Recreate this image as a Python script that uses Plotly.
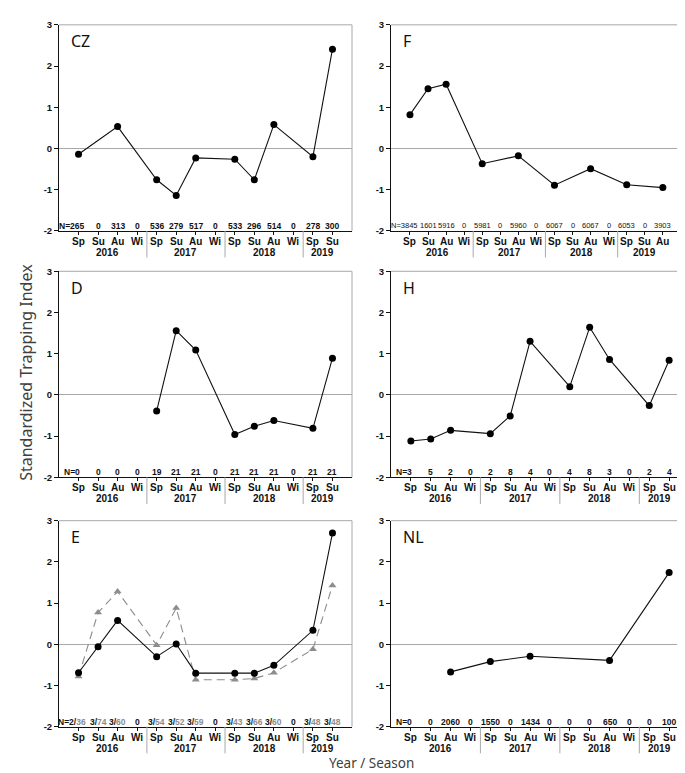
import plotly.graph_objects as go
from plotly.subplots import make_subplots

# ---------------- data ----------------
seasons_14 = ["Sp", "Su", "Au", "Wi", "Sp", "Su", "Au", "Wi", "Sp", "Su", "Au", "Wi", "Sp", "Su"]
seasons_15 = seasons_14 + ["Au"]
years = ["2016", "2017", "2018", "2019"]

cz_values = [-0.14, None, 0.53, None, -0.76, -1.14, -0.23, None, -0.26, -0.76, 0.58, None, -0.20, 2.41]
cz_n = ["265", "0", "313", "0", "536", "279", "517", "0", "533", "296", "514", "0", "278", "300"]

f_values = [0.82, 1.45, 1.56, None, -0.37, None, -0.18, None, -0.89, None, -0.49, None, -0.88, None, -0.95]
f_n = ["3845", "1601", "5916", "0", "5981", "0", "5960", "0", "6067", "0", "6067", "0", "6053", "0", "3903"]

d_values = [None, None, None, None, -0.39, 1.56, 1.09, None, -0.96, -0.76, -0.62, None, -0.81, 0.89]
d_n = ["0", "0", "0", "0", "19", "21", "21", "0", "21", "21", "21", "0", "21", "21"]

h_values = [-1.12, -1.07, -0.86, None, -0.94, -0.51, 1.30, None, 0.20, 1.64, 0.86, None, -0.26, 0.84]
h_n = ["3", "5", "2", "0", "2", "8", "4", "0", "4", "8", "3", "0", "2", "4"]

e_black = [-0.69, -0.06, 0.58, None, -0.30, 0.01, -0.70, None, -0.70, -0.70, -0.51, None, 0.34, 2.70]
e_gray = [-0.78, 0.77, 1.28, None, -0.02, 0.88, -0.86, None, -0.86, -0.83, -0.69, None, -0.12, 1.43]
e_n_black = ["2", "3", "3", "0", "3", "3", "3", "0", "3", "3", "3", "0", "3", "3"]
e_n_gray = ["36", "74", "60", "", "54", "52", "59", "", "43", "66", "60", "", "48", "48"]

nl_values = [None, None, -0.67, None, -0.42, None, -0.29, None, None, None, -0.39, None, None, 1.74]
nl_n = ["0", "0", "2060", "0", "1550", "0", "1434", "0", "0", "0", "650", "0", "0", "100"]

panel_names = ["CZ", "F", "D", "H", "E", "NL"]
y_ticks = [-2, -1, 0, 1, 2, 3]

# ---------------- layout geometry ----------------
W, H = 685, 773
rows_px = [(11, 220), (261, 470), (514, 723)]
cols_px = {
    1: (51, 344),  # CZ
    2: (383, 672),  # F
    3: (51, 344),  # D
    4: (383, 681),  # H
    5: (51, 344),  # E
    6: (383, 681),  # NL
}
x_ranges = {1: [0, 15], 2: [-0.05, 15.95], 3: [0, 15], 4: [0, 15], 5: [0, 15], 6: [0, 15]}

fig = make_subplots(rows=3, cols=2)

BLACK = "#111111"
GRAYLINE = "#a8a8a8"
GRAYSER = "#8c8c8c"
BOLD_FONT = "Liberation Sans, Arial, sans-serif"
TITLE_FONT = "Noto Sans, Open Sans, sans-serif"


def ax(k):
    return "" if k == 1 else str(k)


def add_series(row, col, vals, color=BLACK, symbol="circle", dash="solid", mcolor="black"):
    xs = list(range(1, len(vals) + 1))
    fig.add_trace(
        go.Scatter(
            x=xs, y=vals, mode="lines+markers", connectgaps=True,
            line=dict(color=color, width=1.1, dash=dash),
            marker=dict(symbol=symbol, size=7, color=mcolor),
            showlegend=False, hoverinfo="skip",
        ),
        row=row, col=col,
    )


panels = [
    (1, 1, 1, seasons_14),
    (2, 1, 2, seasons_15),
    (3, 2, 1, seasons_14),
    (4, 2, 2, seasons_14),
    (5, 3, 1, seasons_14),
    (6, 3, 2, seasons_14),
]

add_series(1, 1, cz_values)
add_series(1, 2, f_values)
add_series(2, 1, d_values)
add_series(2, 2, h_values)
add_series(3, 1, e_gray, color=GRAYSER, symbol="triangle-up", dash="8px,5px", mcolor=GRAYSER)
add_series(3, 1, e_black)
add_series(3, 2, nl_values)

annotations = []
shapes = []


def char_w(s, size):
    w = 0
    for ch in s:
        w += 0.28 * size if ch == "/" else 0.556 * size
    return w


for k, row, col, seas in panels:
    top, bot = rows_px[row - 1]
    x0p, x1p = cols_px[k]
    rng = x_ranges[k]
    xa = "xaxis" + ax(k)
    ya = "yaxis" + ax(k)
    fig.layout[xa].update(
        domain=[x0p / W, x1p / W], range=rng, showgrid=False, zeroline=False,
        showline=True, linecolor=BLACK, linewidth=1,
        tickvals=list(range(1, len(seas) + 1)), ticks="outside", ticklen=3,
        tickcolor=BLACK, showticklabels=False, fixedrange=True,
    )
    fig.layout[ya].update(
        domain=[1 - bot / H, 1 - top / H], range=[-2, 3], showgrid=False,
        zeroline=True, zerolinecolor=GRAYLINE, zerolinewidth=1,
        showline=True, linecolor=BLACK, linewidth=1,
        tickvals=y_ticks, ticktext=["<b>%d</b>" % v for v in y_ticks],
        ticks="outside", ticklen=4, tickcolor=BLACK,
        tickfont=dict(family=BOLD_FONT, size=9.5, color=BLACK), fixedrange=True,
    )
    xr = "x" + ax(k)
    yd = "y" + ax(k) + " domain"
    xd = "x" + ax(k) + " domain"
    ph = bot - top

    # top and right frame (gray)
    shapes.append(dict(type="line", xref=xd, yref=yd, x0=0, x1=1, y0=1, y1=1,
                       line=dict(color=GRAYLINE, width=1)))
    shapes.append(dict(type="line", xref=xd, yref=yd, x0=1, x1=1, y0=0, y1=1,
                       line=dict(color=GRAYLINE, width=1)))

    # year separators
    for sep in [4.5, 8.5, 12.5]:
        fx = (sep - rng[0]) / (rng[1] - rng[0])
        shapes.append(dict(type="line", xref=xd, yref=yd, x0=fx, x1=fx, y0=0, y1=-27 / ph,
                           line=dict(color=GRAYLINE, width=1)))

    # season labels
    for i, s in enumerate(seas):
        annotations.append(dict(x=i + 1, xref=xr, y=0, yref=yd, yanchor="middle", yshift=-10.5,
                                text="<b>%s</b>" % s, showarrow=False,
                                font=dict(family=BOLD_FONT, size=10, color=BLACK)))
    # year labels
    year_centers = [2.5, 6.5, 10.5, 13.5 if len(seas) == 14 else 14]
    for yc, yl in zip(year_centers, years):
        annotations.append(dict(x=yc, xref=xr, y=0, yref=yd, yanchor="middle", yshift=-21.5,
                                text="<b>%s</b>" % yl, showarrow=False,
                                font=dict(family=BOLD_FONT, size=10, color=BLACK)))

    # panel name
    annotations.append(dict(x=0.035, xref=xd, y=0.92, yref=yd, xanchor="left", yanchor="middle",
                            text=panel_names[k - 1], showarrow=False,
                            font=dict(family=TITLE_FONT, size=16, color=BLACK)))


# N labels
def add_n_labels(k, labels, size=8.5, bold=True, family=BOLD_FONT, gray_parts=None):
    xr = "x" + ax(k)
    yr = "y" + ax(k)
    for i, lab in enumerate(labels):
        plain = lab
        txt = lab
        if gray_parts is not None and gray_parts[i]:
            plain = lab + "/" + gray_parts[i]
            txt = lab + "/<span style='color:%s'>%s</span>" % (GRAYSER, gray_parts[i])
        disp = "<b>%s</b>" % txt if bold else txt
        if i == 0:
            disp = ("<b>N=</b>" if bold else "N=") + disp
            annotations.append(dict(x=i + 1, xref=xr, y=-2, yref=yr, xanchor="right", yanchor="middle",
                                    yshift=5, xshift=char_w(plain, size) / 2 + 1, text=disp, showarrow=False,
                                    font=dict(family=family, size=size, color=BLACK)))
        else:
            annotations.append(dict(x=i + 1, xref=xr, y=-2, yref=yr, xanchor="center", yanchor="middle",
                                    yshift=5, text=disp, showarrow=False,
                                    font=dict(family=family, size=size, color=BLACK)))


add_n_labels(1, cz_n)
add_n_labels(2, f_n, size=7.5, bold=False,
             family="Liberation Sans Narrow, Arial Narrow, Liberation Sans, sans-serif")
add_n_labels(3, d_n)
add_n_labels(4, h_n)
add_n_labels(5, e_n_black, gray_parts=e_n_gray)
add_n_labels(6, nl_n)

# axis titles
annotations.append(dict(x=18 / W, xref="paper", y=1 - 364 / H, yref="paper", textangle=-90,
                        text="Standardized Trapping Index", showarrow=False,
                        xanchor="center", yanchor="middle",
                        font=dict(family=TITLE_FONT, size=16, color="#404040")))
annotations.append(dict(x=363 / W, xref="paper", y=0, yref="paper", yshift=3,
                        text="Year / Season", showarrow=False, xanchor="center", yanchor="bottom",
                        borderpad=0,
                        font=dict(family=TITLE_FONT, size=13.5, color="#404040")))

fig.update_layout(
    width=W, height=H,
    margin=dict(l=0, r=0, t=0, b=0),
    paper_bgcolor="white", plot_bgcolor="white",
    annotations=annotations, shapes=shapes,
    showlegend=False,
)

fig.write_html("out.html")
